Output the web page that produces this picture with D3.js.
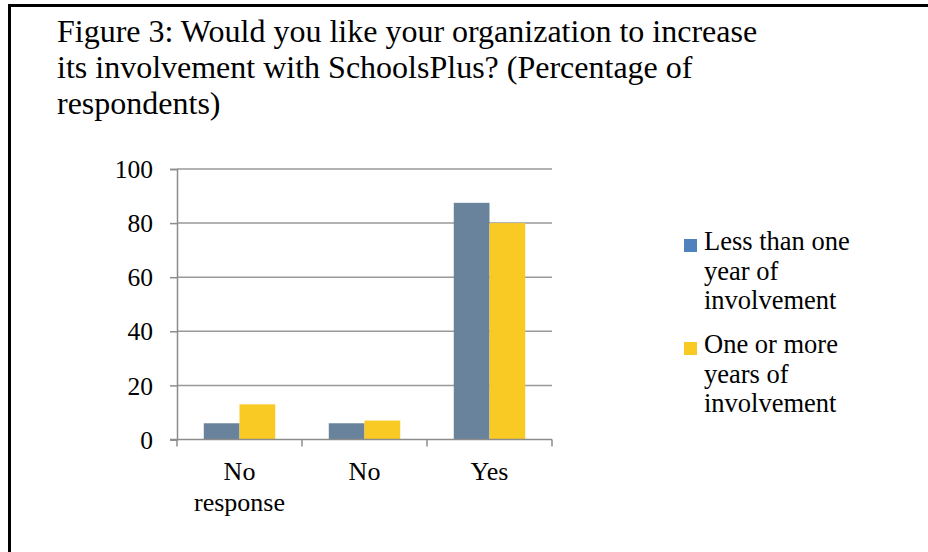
<!DOCTYPE html>
<html lang="en">

<head>
    <meta charset="UTF-8">
    <title>Figure 3</title>
    <script src="https://d3js.org/d3.v7.min.js"></script>
    <style>
        body {
            margin: 0;
            padding: 0;
            background-color: #fff;
        }

        svg text {
            font-family: "Liberation Serif", "Times New Roman", serif;
            fill: #000;
        }

        .title {
            font-size: 32px;
        }

        .tick-label {
            font-size: 25.5px;
        }

        .cat-label {
            font-size: 26px;
        }

        .legend-label {
            font-size: 26.5px;
        }
    </style>
</head>

<body>
    <svg id="chart" width="928" height="552"></svg>
    <script>
        // chart data
        const categories = ["No response", "No", "Yes"];
        const seriesNames = ["Less than one year of involvement", "One or more years of involvement"];
        const lessThanOne = [6, 6, 87.5];
        const oneOrMore = [13, 7, 80];
        const yTicks = [0, 20, 40, 60, 80, 100];

        const titleLines = [
            "Figure 3: Would you like your organization to increase",
            "its involvement with SchoolsPlus? (Percentage of",
            "respondents)"
        ];
        const categoryLines = [["No", "response"], ["No"], ["Yes"]];
        const legendLines = [["Less than one", "year of", "involvement"], ["One or more", "years of", "involvement"]];

        const barColors = ["#68839b", "#f9c924"];
        const legendColors = ["#4f81bd", "#f9c924"];

        const svg = d3.select("#chart");

        // frame (only top and left edges show in the window)
        svg.append("rect")
            .attr("x", 9.5)
            .attr("y", 5.5)
            .attr("width", 1000)
            .attr("height", 1000)
            .attr("fill", "none")
            .attr("stroke", "#000")
            .attr("stroke-width", 3);

        // title
        svg.append("text")
            .attr("class", "title")
            .selectAll("tspan")
            .data(titleLines)
            .join("tspan")
            .attr("x", 57)
            .attr("y", (d, i) => 42 + i * 36)
            .text(d => d);

        const plotLeft = 177, plotRight = 552, plotTop = 169, plotBottom = 439.5;

        const x = d3.scaleBand()
            .domain(categories)
            .range([plotLeft, plotRight]);

        // bar width so that gap = 150% of one bar
        const barW = x.bandwidth() / 3.5;
        const xInner = d3.scaleBand()
            .domain([0, 1])
            .range([barW * 0.75, barW * 2.75]);

        const y = d3.scaleLinear()
            .domain([0, 100])
            .range([plotBottom, plotTop]);

        // gridlines
        svg.append("g")
            .selectAll("line")
            .data(yTicks.filter(d => d > 0))
            .join("line")
            .attr("x1", plotLeft)
            .attr("x2", plotRight)
            .attr("y1", d => y(d))
            .attr("y2", d => y(d))
            .attr("stroke", "#999")
            .attr("stroke-width", 1.5);

        // y axis
        const yAxis = svg.append("g")
            .attr("transform", `translate(${plotLeft},0)`)
            .call(d3.axisLeft(y).tickValues(yTicks).tickSize(7).tickPadding(17));
        yAxis.select(".domain").attr("stroke", "#8c8c8c").attr("stroke-width", 1.5);
        yAxis.selectAll(".tick line").attr("stroke", "#8c8c8c").attr("stroke-width", 1.5);
        yAxis.selectAll(".tick text")
            .attr("class", "tick-label")
            .attr("dy", "0.34em");
        yAxis.attr("font-family", null).attr("font-size", null);

        // bars
        const series = [lessThanOne, oneOrMore];
        series.forEach((vals, si) => {
            svg.append("g")
                .selectAll("rect")
                .data(vals)
                .join("rect")
                .attr("x", (d, i) => x(categories[i]) + xInner(si))
                .attr("y", d => y(d))
                .attr("width", xInner.bandwidth())
                .attr("height", d => plotBottom - y(d))
                .attr("fill", barColors[si]);
        });

        // x axis line and ticks at category boundaries
        const xg = svg.append("g");
        xg.append("line")
            .attr("x1", plotLeft - 7)
            .attr("x2", plotRight)
            .attr("y1", plotBottom)
            .attr("y2", plotBottom)
            .attr("stroke", "#8c8c8c")
            .attr("stroke-width", 1.5);
        const bounds = categories.map(c => x(c)).concat([plotRight]);
        xg.selectAll(".xtick")
            .data(bounds)
            .join("line")
            .attr("class", "xtick")
            .attr("x1", d => d)
            .attr("x2", d => d)
            .attr("y1", plotBottom)
            .attr("y2", plotBottom + 7)
            .attr("stroke", "#8c8c8c")
            .attr("stroke-width", 1.5);

        // category labels
        svg.append("g")
            .selectAll("text")
            .data(categories)
            .join("text")
            .attr("class", "cat-label")
            .attr("text-anchor", "middle")
            .each(function (c, i) {
                d3.select(this).selectAll("tspan")
                    .data(categoryLines[i])
                    .join("tspan")
                    .attr("x", x(c) + x.bandwidth() / 2)
                    .attr("y", (d, j) => 480 + j * 31)
                    .text(d => d);
            });

        // legend
        const legendTop = [239, 342];
        seriesNames.forEach((name, si) => {
            const g = svg.append("g").attr("aria-label", name);
            g.append("rect")
                .attr("x", 684)
                .attr("y", legendTop[si])
                .attr("width", 13)
                .attr("height", 13)
                .attr("fill", legendColors[si]);
            g.append("text")
                .attr("class", "legend-label")
                .selectAll("tspan")
                .data(legendLines[si])
                .join("tspan")
                .attr("x", 704)
                .attr("y", (d, j) => legendTop[si] + 11 + j * 29.5)
                .text(d => d);
        });
    </script>
</body>

</html>
